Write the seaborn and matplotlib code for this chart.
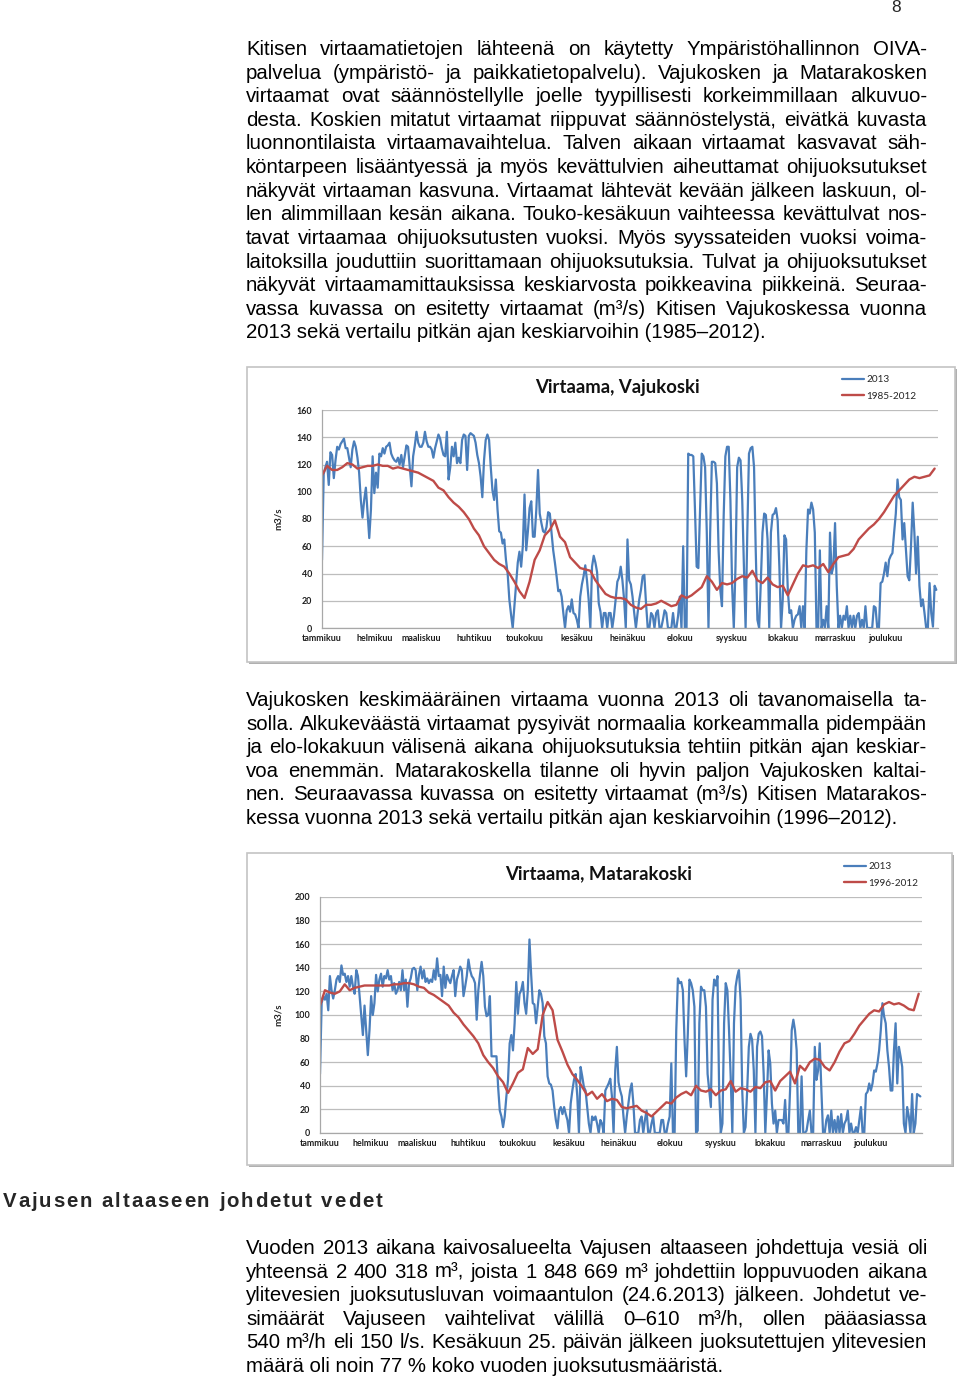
import numpy as np
import pandas as pd
import seaborn as sns
import matplotlib.pyplot as plt
from matplotlib.patches import Rectangle

# ---- data (m3/s), daily for 2013, every 3rd day for the long-term mean ----
months = ["tammikuu", "helmikuu", "maaliskuu", "huhtikuu", "toukokuu", "kesäkuu",
          "heinäkuu", "elokuu", "syyskuu", "lokakuu", "marraskuu", "joulukuu"]
month_start = [1, 32, 60, 91, 121, 152, 182, 213, 244, 274, 305, 335]
days_2013 = np.arange(1, 366)
days_mean = np.arange(1, 365, 3)

vaju_2013 = [
    50, 113, 118, 122, 105, 129, 127, 110, 123, 133, 131, 135, 137, 139, 132, 132, 125, 118, 131, 137,
    133, 125, 114, 94, 81, 94, 103, 84, 66, 87, 126, 99, 114, 103, 128, 126, 132, 128, 133, 134,
    136, 128, 125, 123, 122, 125, 120, 127, 118, 126, 134, 133, 118, 104, 126, 134, 144, 136, 133, 133,
    136, 144, 137, 133, 133, 131, 125, 132, 137, 142, 139, 132, 127, 126, 144, 109, 118, 133, 126, 136,
    121, 125, 121, 138, 142, 141, 116, 141, 143, 142, 141, 136, 127, 121, 111, 96, 123, 138, 142, 138,
    118, 101, 94, 109, 87, 71, 70, 62, 65, 50, 40, 21, 10, 0,
    16, 31, 48, 56, 45, 60, 98, 57, 71, 88, 93, 67, 67, 87, 116, 84, 77, 71, 70, 74,
    85, 84, 70, 57, 48, 38, 27, 28, 23, 11, 0, 13, 16, 12, 21, 11, 10, 6, 0, 23,
    32, 38, 46, 35, 21, 0, 45, 53, 48, 41, 18, 12, 0, 11, 11, 0, 11, 11, 0, 9,
    21, 34, 37, 45, 35, 21, 0, 65, 35, 32, 23, 11, 0, 11, 21, 28, 38, 39, 18, 0,
    0, 11, 9, 0, 11, 13, 0, 0, 6, 13, 11, 0, 0, 0, 11, 0, 0, 9, 23, 0,
    60, 0, 0, 128, 127, 127, 126, 87, 45, 44, 87, 128, 126, 118, 70, 0, 70, 122, 122, 121,
    106, 57, 28, 16, 82, 126,
    133, 133, 94, 31, 0, 45, 118, 125, 123, 94, 45, 0, 70, 128, 132, 133, 118, 57, 6, 0,
    33, 70, 84, 83, 65, 0, 70, 83, 84, 88, 79, 45, 0, 21, 68, 65, 28, 11, 13, 0,
    6, 9, 10, 16, 0, 16, 0, 57, 87, 84, 92, 87, 70, 0, 0, 57, 0, 6, 0, 16,
    0, 70, 40, 45, 77, 31, 0, 9, 0, 9, 6, 16, 0, 9, 0, 9, 0, 9, 11, 0,
    6, 0, 16, 0, 0, 0, 0, 16, 15, 0, 0, 33, 34, 40, 48, 38, 50, 53, 55, 70,
    84, 109, 96, 94, 65, 77, 57, 38, 35, 60, 92, 70, 40, 67, 31, 16, 21, 11, 0, 0,
    33, 11, 1, 31, 28,
]
vaju_mean = [
    112, 119, 116, 116, 118, 121, 120, 117, 118, 119, 119, 120, 119, 119, 117, 118, 117, 116, 115, 114,
    112, 110, 108, 103, 101, 96, 92, 89, 85, 80, 73, 68, 60, 55, 50, 47, 45, 40, 34, 27,
    22, 34, 50, 57, 68, 72, 79, 67, 63, 52, 48, 44, 43, 42, 35, 30, 25, 23, 22, 22,
    21, 17, 15, 14, 17, 17, 18, 20, 18, 16, 17, 24, 22, 24, 27, 30, 38, 34, 28, 33,
    32, 33, 36, 38, 37, 42, 35, 33, 37, 32, 30, 31, 24, 32, 40, 46, 45, 46, 44, 47,
    41, 47, 52, 53, 54, 58, 65, 69, 73, 76, 80, 85, 91, 97, 101, 105, 109, 111, 110, 111,
    112, 117,
]
mata_2013 = [
    50, 110, 116, 113, 118, 104, 133, 121, 114, 121, 130, 133, 128, 142, 134, 135, 128, 133, 124, 133,
    124, 118, 138, 133, 116, 99, 83, 108, 87, 66, 87, 116, 100, 110, 134, 120, 130, 135, 124, 133,
    131, 138, 130, 133, 121, 127, 118, 121, 128, 121, 138, 121, 130, 107, 127, 131, 139, 140, 138, 121,
    134, 141, 131, 138, 128, 131, 127, 130, 128, 138, 130, 148, 133, 134, 116, 141, 123, 134, 130, 127,
    133, 138, 116, 130, 135, 141, 138, 116, 124, 133, 147, 138, 133, 131, 127, 96, 121, 134, 145, 133,
    107, 99, 100, 116, 65, 65, 65, 65, 39, 19, 14, 5, 14, 31,
    45, 76, 83, 70, 93, 128, 101, 118, 121, 128, 110, 101, 121, 164, 135, 110, 109, 93, 107, 121,
    118, 110, 82, 76, 48, 42, 41, 36, 22, 11, 4, 19, 22, 16, 22, 16, 11, 0, 25, 36,
    45, 50, 31, 0, 56, 48, 39, 36, 22, 8, 0, 14, 11, 14, 8, 0, 11, 8, 0, 36,
    39, 42, 46, 31, 0, 53, 73, 43, 36, 31, 14, 0, 14, 25, 36, 42, 25, 0, 0, 0,
    11, 14, 0, 11, 19, 0, 0, 8, 14, 0, 0, 0, 0, 11, 11, 0, 0, 8, 14, 59,
    0, 0, 87, 131, 127, 128, 121, 79, 48, 84, 130, 127, 121, 107, 0, 2, 93, 124, 121, 121,
    107, 50, 36, 22, 113, 130, 125, 133, 36,
    0, 8, 93, 127, 121, 87, 48, 0, 93, 124, 133, 138, 113, 36, 0, 5, 36, 73, 84, 79,
    53, 0, 73, 84, 86, 82, 50, 0, 33, 70, 59, 25, 8, 19, 0, 11, 11, 11, 8, 28,
    0, 0, 36, 87, 96, 87, 70, 0, 0, 48, 0, 0, 2, 11, 19, 0, 0, 73, 45, 53,
    76, 36, 0, 0, 11, 15, 0, 19, 0, 11, 0, 14, 0, 16, 0, 8, 11, 19, 0, 8,
    0, 0, 5, 0, 11, 22, 0, 0, 33, 35, 42, 36, 42, 53, 52, 59, 70, 87, 110, 99,
    93, 70, 56, 36, 36, 70, 93, 42, 73, 65, 56, 8, 0, 22, 14, 0, 33, 0, 8, 33,
    32, 31,
]
mata_mean = [
    108, 121, 119, 118, 120, 126, 121, 123, 124, 125, 125, 125, 125, 125, 125, 126, 126, 127, 127, 126,
    124, 123, 119, 117, 114, 111, 108, 102, 98, 92, 87, 82, 76, 66, 60, 55, 48, 43, 34,
    42, 51, 54, 72, 67, 71, 100, 111, 104, 79, 69, 58, 50, 45, 39, 32, 35, 29, 33, 27,
    29, 28, 22, 21, 22, 23, 19, 17, 14, 18, 22, 26, 25, 30, 33, 35, 32, 40, 36, 35,
    37, 32,
    36, 37, 44, 35, 38, 37, 35, 39, 38, 43, 44, 36, 44, 48, 52, 42, 57, 53, 60, 63,
    62, 56, 53, 60, 69, 76, 78, 84, 91, 96, 101, 104, 103, 109, 111, 109, 110, 108, 105, 104,
    118,
]

BLUE = "#4A7EBB"
RED = "#BE4B48"

sns.set_style("white")
plt.rcParams["font.family"] = ["Liberation Sans", "DejaVu Sans"]

fig = plt.figure(figsize=(9.6, 13.79), dpi=100)
page = fig.add_axes([0, 0, 1, 1])
page.set_xlim(0, 960)
page.set_ylim(1379, 0)
page.axis("off")
renderer = fig.canvas.get_renderer()


def text_width(s, **kw):
    t = page.text(0, 0, s, **kw)
    w = t.get_window_extent(renderer).width
    t.remove()
    return w


# body font size fitted to the width of the last line of the first paragraph
probe = "2013 sekä vertailu pitkän ajan keskiarvoihin (1985–2012)."
fs = 10 * 522 / text_width(probe, fontsize=10)


def put_line(s, y, x0=246, x1=927, justify=True):
    words = s.split(" ")
    if not justify:
        page.text(x0, y, s, fontsize=fs, va="baseline", ha="left", color="black")
        return
    widths = [text_width(w, fontsize=fs) for w in words]
    gap = (x1 - x0 - sum(widths)) / (len(words) - 1)
    x = x0
    for w, wd in zip(words, widths):
        page.text(x, y, w, fontsize=fs, va="baseline", ha="left", color="black")
        x += wd + gap


def paragraph(lines, y0, step=23.62):
    for i, s in enumerate(lines):
        put_line(s, y0 + i * step, justify=(i < len(lines) - 1))


para1 = [
    "Kitisen virtaamatietojen lähteenä on käytetty Ympäristöhallinnon OIVA-",
    "palvelua (ympäristö- ja paikkatietopalvelu). Vajukosken ja Matarakosken",
    "virtaamat ovat säännöstellylle joelle tyypillisesti korkeimmillaan alkuvuo-",
    "desta. Koskien mitatut virtaamat riippuvat säännöstelystä, eivätkä kuvasta",
    "luonnontilaista virtaamavaihtelua. Talven aikaan virtaamat kasvavat säh-",
    "köntarpeen lisääntyessä ja myös kevättulvien aiheuttamat ohijuoksutukset",
    "näkyvät virtaaman kasvuna. Virtaamat lähtevät kevään jälkeen laskuun, ol-",
    "len alimmillaan kesän aikana. Touko-kesäkuun vaihteessa kevättulvat nos-",
    "tavat virtaamaa ohijuoksutusten vuoksi. Myös syyssateiden vuoksi voima-",
    "laitoksilla jouduttiin suorittamaan ohijuoksutuksia. Tulvat ja ohijuoksutukset",
    "näkyvät virtaamamittauksissa keskiarvosta poikkeavina piikkeinä. Seuraa-",
    "vassa kuvassa on esitetty virtaamat (m³/s) Kitisen Vajukoskessa vuonna",
    "2013 sekä vertailu pitkän ajan keskiarvoihin (1985–2012).",
]
para2 = [
    "Vajukosken keskimääräinen virtaama vuonna 2013 oli tavanomaisella ta-",
    "solla. Alkukeväästä virtaamat pysyivät normaalia korkeammalla pidempään",
    "ja elo-lokakuun välisenä aikana ohijuoksutuksia tehtiin pitkän ajan keskiar-",
    "voa enemmän. Matarakoskella tilanne oli hyvin paljon Vajukosken kaltai-",
    "nen. Seuraavassa kuvassa on esitetty virtaamat (m³/s) Kitisen Matarakos-",
    "kessa vuonna 2013 sekä vertailu pitkän ajan keskiarvoihin (1996–2012).",
]
para3 = [
    "Vuoden 2013 aikana kaivosalueelta Vajusen altaaseen johdettuja vesiä oli",
    "yhteensä 2 400 318 m³, joista 1 848 669 m³ johdettiin loppuvuoden aikana",
    "ylitevesien juoksutusluvan voimaantulon (24.6.2013) jälkeen. Johdetut ve-",
    "simäärät Vajuseen vaihtelivat välillä 0–610 m³/h, ollen pääasiassa",
    "540 m³/h eli 150 l/s. Kesäkuun 25. päivän jälkeen juoksutettujen ylitevesien",
    "määrä oli noin 77 % koko vuoden juoksutusmääristä.",
]
paragraph(para1, 55)
paragraph(para2, 706)
paragraph(para3, 1254)

page.text(896, 8, "8", fontsize=fs * 0.85, ha="center", va="center")

# spaced-out bold heading
heading = "Vajusen altaaseen johdetut vedet"
hkw = dict(fontsize=fs * 1.0, fontweight="bold")
space_w = text_width("x x", **hkw) - text_width("xx", **hkw)
char_w = [space_w if c == " " else text_width(c, **hkw) for c in heading]
spacing = (382 - 3 - sum(char_w)) / (len(heading) - 1)
x = 3
for c, w in zip(heading, char_w):
    if c != " ":
        page.text(x, 1207, c, va="baseline", ha="left", **hkw)
    x += w + spacing


def draw_chart(frame, plot, series_2013, series_mean, ymax, title, title_x, mean_label, legend_xy):
    fx0, fy0, fx1, fy1 = frame
    page.add_patch(Rectangle((fx0 + 2, fy0 + 2), fx1 - fx0, fy1 - fy0, facecolor="#B0B0B0",
                             edgecolor="none", zorder=1))
    page.add_patch(Rectangle((fx0, fy0), fx1 - fx0, fy1 - fy0, facecolor="white",
                             edgecolor="#C4C4C4", lw=1.2, zorder=2))
    px0, py_top, px1, py_bot = plot
    ax = fig.add_axes([px0 / 960, 1 - py_bot / 1379, (px1 - px0) / 960, (py_bot - py_top) / 1379])
    ax.set_facecolor("white")

    df_now = pd.DataFrame({"päivä": days_2013, "virtaama": series_2013})
    df_mean = pd.DataFrame({"päivä": days_mean, "virtaama": series_mean})
    sns.lineplot(data=df_now, x="päivä", y="virtaama", ax=ax, color=BLUE, lw=1.6,
                 estimator=None, label="2013")
    sns.lineplot(data=df_mean, x="päivä", y="virtaama", ax=ax, color=RED, lw=1.7,
                 estimator=None, label=mean_label)

    ax.set_xlim(1, 366)
    ax.set_ylim(0, ymax)
    ax.set_yticks(range(0, ymax + 1, 20))
    ax.set_xticks(month_start)
    ax.set_xticklabels(months)
    ax.yaxis.grid(True, color="#BDBDBD", lw=0.9)
    ax.xaxis.grid(False)
    ax.set_axisbelow(True)
    for side in ["top", "right"]:
        ax.spines[side].set_visible(False)
    for side in ["left", "bottom"]:
        ax.spines[side].set_color("#A8A8A8")
        ax.spines[side].set_linewidth(0.9)
    ax.tick_params(axis="both", length=0, labelsize=6.4, colors="#1f1f1f")
    ax.tick_params(axis="y", pad=7)
    ax.tick_params(axis="x", pad=4)
    for lbl in ax.get_xticklabels() + ax.get_yticklabels():
        lbl.set_fontfamily("Lato")
        lbl.set_fontweight("bold")
    ax.set_xlabel("")
    ax.set_ylabel("m3/s", fontsize=7, fontweight="bold", family="Lato")
    ax.yaxis.set_label_coords((283 - px0) / (px1 - px0), 0.5)
    ax.text(title_x, 1 + 23 / (py_bot - py_top), title, transform=ax.transAxes, ha="center",
            va="center", fontsize=13.3, fontweight="bold", family="Lato", color="#111111")
    lx, ly = legend_xy
    ax.legend(loc="upper left", bbox_to_anchor=(lx / 960, 1 - ly / 1379), bbox_transform=fig.transFigure,
              frameon=False, prop={"family": "Lato", "size": 7.2}, handlelength=2.2,
              handletextpad=0.2, labelspacing=0.75, borderpad=0, borderaxespad=0)
    return ax


draw_chart((247, 367, 955, 662), (322, 410, 938, 628), vaju_2013, vaju_mean, 160,
           "Virtaama, Vajukoski", 0.48, "1985-2012", (842, 375))
draw_chart((247, 853, 952, 1165), (320, 897, 922, 1133), mata_2013, mata_mean, 200,
           "Virtaama, Matarakoski", 0.462, "1996-2012", (844, 862))

fig.savefig("out.png", dpi=100)
